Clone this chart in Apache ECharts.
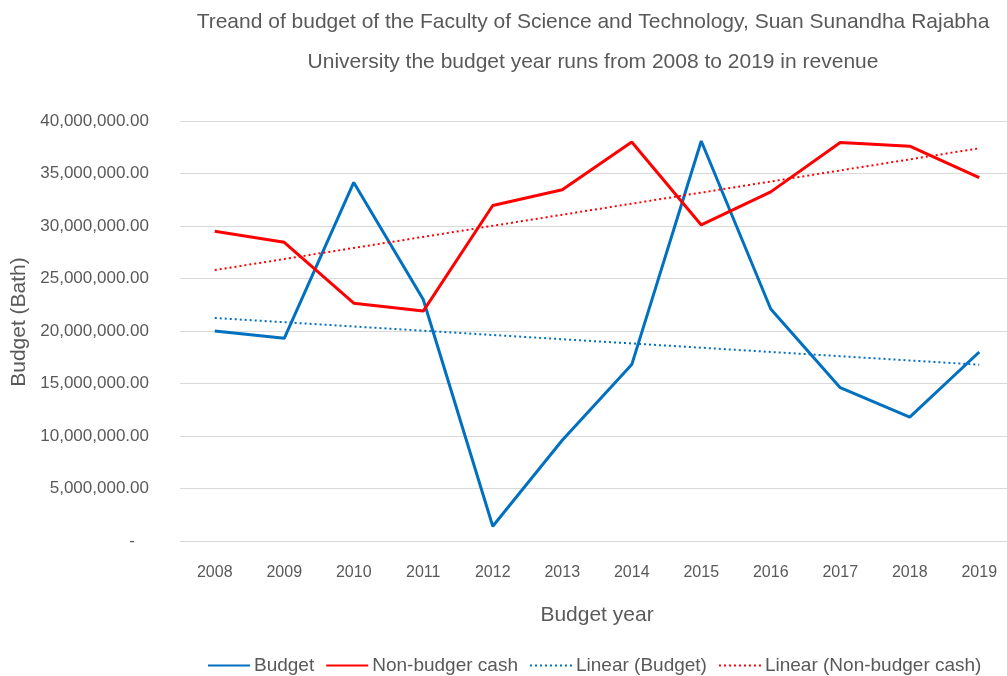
<!DOCTYPE html>
<html>
<head>
<meta charset="utf-8">
<script src="https://cdn.jsdelivr.net/npm/echarts@6/dist/echarts.min.js"></script>
<style>
  html, body { margin: 0; padding: 0; background: #fff; }
  #chart { width: 1007px; height: 676px; }
</style>
</head>
<body>
<div id="chart"></div>
<script>
// data
const years = ['2008', '2009', '2010', '2011', '2012', '2013', '2014', '2015', '2016', '2017', '2018', '2019']
const budget = [20000000, 19300000, 34150000, 23000000, 1400000, 9600000, 16800000, 38100000, 22100000, 14600000, 11800000, 18000000]
const nonBudget = [29500000, 28450000, 22650000, 21900000, 31950000, 33450000, 38000000, 30100000, 33250000, 37950000, 37600000, 34600000]
// trend lines (Excel linear), end points only
const trendBudget = [['2008', 21240000], ['2019', 16790000]]
const trendNonBudget = [['2008', 25800000], ['2019', 37400000]]
const titleLines = ['Treand of budget of the Faculty of Science and Technology, Suan Sunandha Rajabha', 'University the budget year runs from 2008 to 2019 in revenue']

const font = '"Liberation Sans", "DejaVu Sans", sans-serif'
const txt = '#595959'

function money(v) {
  if (v === 0) return '-   '
  return v.toLocaleString('en-US', { minimumFractionDigits: 2, maximumFractionDigits: 2 })
}

const myChart = echarts.init(document.getElementById('chart'))
myChart.setOption({
  animation: false,
  title: {
    text: titleLines.join('\n'),
    left: 588,
    top: -3,
    textAlign: 'center',
    textStyle: { fontFamily: font, fontSize: 21, fontWeight: 'normal', color: txt, lineHeight: 40 }
  },
  legend: {
    left: 202,
    top: 651,
    itemWidth: 42,
    itemHeight: 14,
    itemGap: 11,
    itemStyle: { opacity: 0 },
    textStyle: { fontFamily: font, fontSize: 19, color: txt, padding: [0, 0, 0, -1] },
    data: ['Budget', 'Non-budger cash', 'Linear (Budget)', 'Linear (Non-budger cash)']
  },
  grid: { left: 180, top: 121, width: 834, height: 420, outerBoundsMode: 'none' },
  xAxis: {
    type: 'category',
    data: years,
    name: 'Budget year',
    nameLocation: 'middle',
    nameGap: 64,
    nameTextStyle: { fontFamily: font, fontSize: 21, color: txt },
    axisLine: { lineStyle: { color: '#d9d9d9' } },
    axisTick: { show: false },
    axisLabel: { fontFamily: font, fontSize: 16, color: txt, margin: 24 }
  },
  yAxis: {
    type: 'value',
    min: 0,
    max: 40000000,
    interval: 5000000,
    name: 'Budget (Bath)',
    nameLocation: 'middle',
    nameGap: 150,
    nameTextStyle: { fontFamily: font, fontSize: 21, color: txt, padding: [0, 0, 0, 18] },
    axisLine: { show: false },
    axisTick: { show: false },
    splitLine: { lineStyle: { color: '#d9d9d9' } },
    axisLabel: { fontFamily: font, fontSize: 17, color: txt, margin: 31, formatter: money }
  },
  series: [
    {
      name: 'Budget',
      type: 'line',
      data: budget,
      symbol: 'none',
      lineStyle: { color: '#0070C0', width: 3 },
      itemStyle: { color: '#0070C0' }
    },
    {
      name: 'Non-budger cash',
      type: 'line',
      data: nonBudget,
      symbol: 'none',
      lineStyle: { color: '#FF0000', width: 3 },
      itemStyle: { color: '#FF0000' }
    },
    {
      name: 'Linear (Budget)',
      type: 'line',
      data: trendBudget,
      symbol: 'none',
      lineStyle: { color: '#0070C0', width: 2, type: [2, 3] },
      itemStyle: { color: '#0070C0' }
    },
    {
      name: 'Linear (Non-budger cash)',
      type: 'line',
      data: trendNonBudget,
      symbol: 'none',
      lineStyle: { color: '#FF0000', width: 2, type: [2, 3] },
      itemStyle: { color: '#FF0000' }
    }
  ]
})
window.addEventListener('resize', function () {
  myChart.resize()
})
</script>
</body>
</html>
